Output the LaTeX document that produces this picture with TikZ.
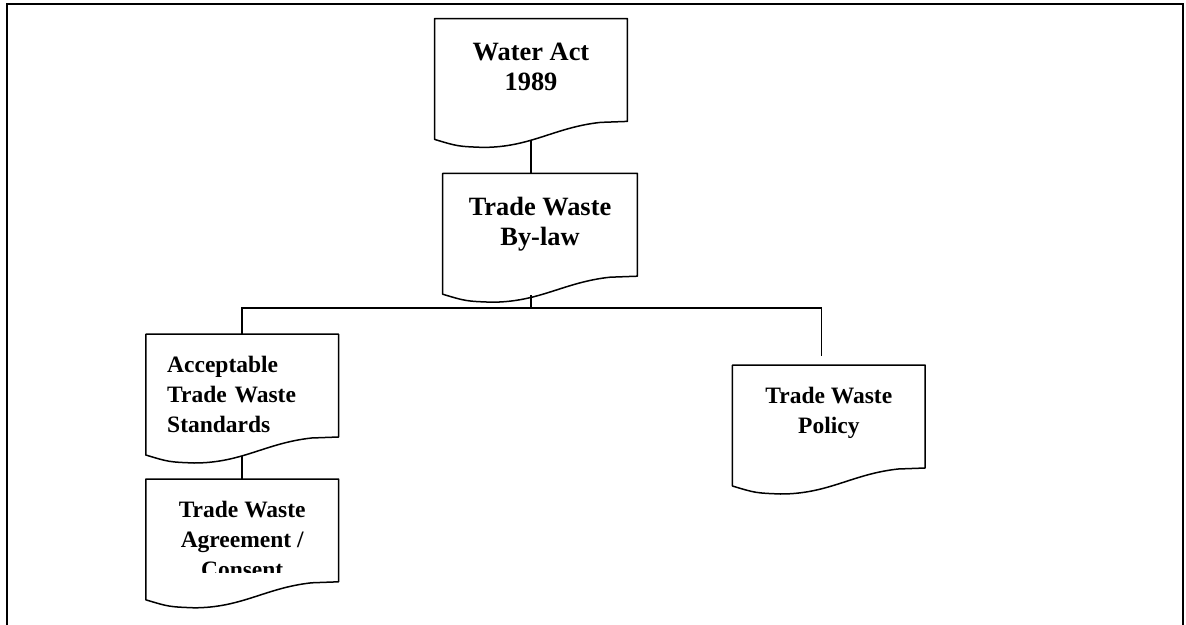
\documentclass[tikz,border=0pt]{standalone}
\usepackage{fontspec}
\setmainfont{Liberation Serif}
\usetikzlibrary{calc,positioning}
\newcommand{\docoutline}[1]{%
  \draw[docline] (#1.south east) -- (#1.north east) -- (#1.north west)
    -- ($(#1.south west)+(0,18)$)
    .. controls ($(#1.south west)!0.12!(#1.south east)+(0,25)$) .. ($(#1.south west)!0.25!(#1.south east)+(0,26)$)
    .. controls ($(#1.south west)!0.5!(#1.south east)+(0,26)$) and ($(#1.south west)!0.62!(#1.south east)+(0,6)$) .. ($(#1.south west)!0.86!(#1.south east)+(0,1)$)
    -- cycle;
  \coordinate (#1 wave) at ($(#1.south)+(0,19)$)}

\begin{document}
\begin{tikzpicture}[
    x=0.5pt, y=-0.5pt,
    docbox/.style={inner sep=0pt, minimum width=96pt, minimum height=51pt,
                   align=center, text height=36pt, text depth=15pt,
                   font=\bfseries\fontsize{13.2}{15}\selectfont},
    docsmall/.style={docbox, text height=49pt, text depth=2pt,
                     font=\bfseries\fontsize{11.75}{15}\selectfont},
    docline/.style={line width=0.75pt, line join=round},
    conn/.style={line width=0.75pt},
    frame/.style={line width=1pt}]
  \useasboundingbox (0,0) rectangle (1186,625);
  \draw[frame] (7,625) -- (7,4) -- (1183,4) -- (1183,625);

  \node[docbox] (act) at (531,70) {Water Act\\1989};
  \node[docbox, minimum width=97pt, below=26pt of act, xshift=4.5pt] (bylaw) {Trade Waste\\By-law};
  \node[docsmall, align=left, text width=75pt, inner xsep=10.5pt,
        text height=19pt, text depth=32pt,
        below left=29pt and 52pt of bylaw] (accept) {Acceptable\\Trade Waste\\Standards};
  \begin{scope}
    \clip (0,0) rectangle (1186,572);
    \node[docsmall, below=21pt of accept] (consent) {Trade Waste\\Agreement /\\Consent};
  \end{scope}
  \node[docsmall, text height=34pt, text depth=17pt,
        below right=44.5pt and 47.5pt of bylaw] (policy) {Trade Waste\\Policy};

  \docoutline{act};
  \docoutline{bylaw};
  \docoutline{accept};
  \docoutline{consent};
  \docoutline{policy};

  \coordinate (fork) at ($(act wave |- bylaw.south)+(0,32)$);
  \draw[conn] (act wave) -- (act wave |- bylaw.north);
  \draw[conn] (fork |- bylaw wave) -- (fork);
  \draw[conn, shorten >=4.5pt] (accept.north) |- (fork) -| ([xshift=-3.75pt]policy.north);
  \draw[conn] (accept wave) -- (consent.north);
\end{tikzpicture}
\end{document}
